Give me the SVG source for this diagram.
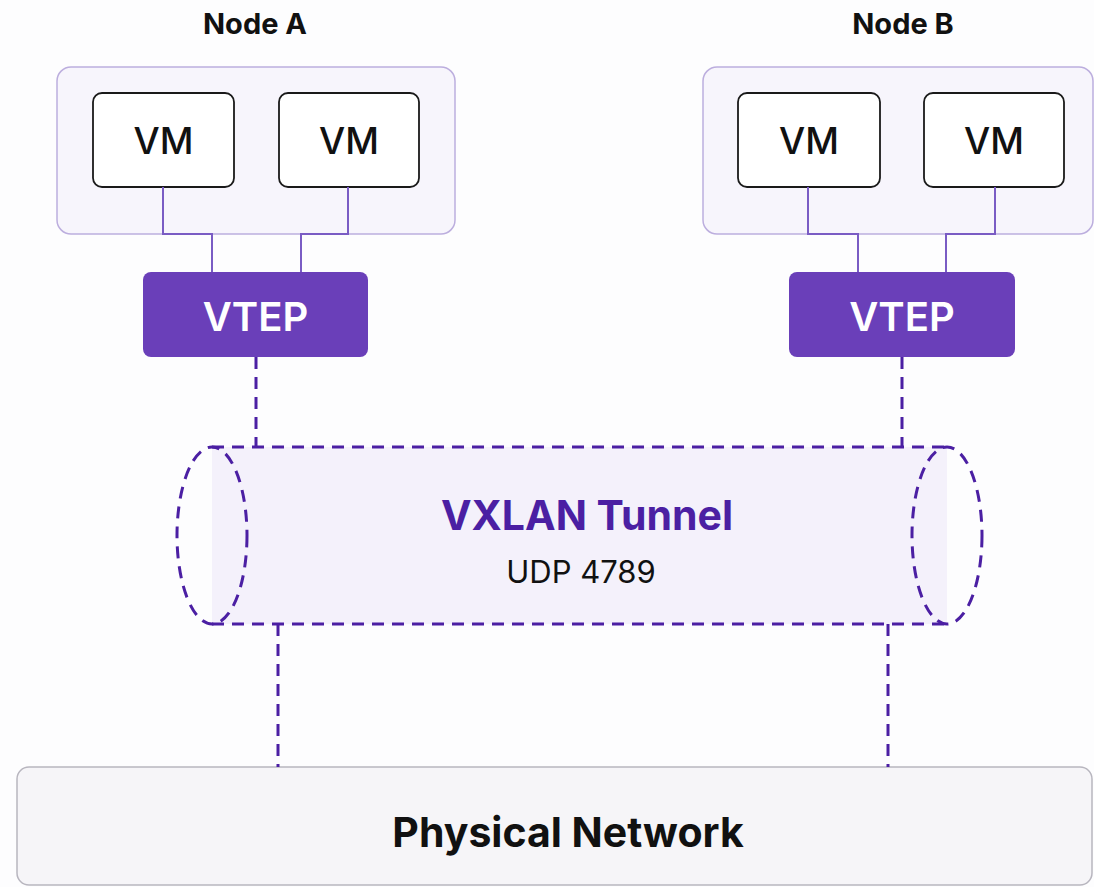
<svg xmlns="http://www.w3.org/2000/svg" width="1094" height="887" viewBox="0 0 1094 887">
  <defs>
    <style>
      .host { fill: #f7f5fc; stroke: #bcaede; stroke-width: 1.5; }
      .vm { fill: #ffffff; stroke: #1a1a1a; stroke-width: 1.8; }
      .vtep { fill: #6a3fb9; }
      .link { fill: none; stroke: #7a5cc4; stroke-width: 2; }
      .dash { fill: none; stroke: #4b1fa3; stroke-width: 3; stroke-dasharray: 12 8; }
      .title { font-family: Inter, "Liberation Sans", sans-serif; font-weight: 700; font-size: 29px; fill: #111; text-anchor: middle; }
      .vmtxt { font-family: Inter, "Liberation Sans", sans-serif; font-weight: 500; font-size: 37px; fill: #111; text-anchor: middle; }
      .vteptxt { font-family: Inter, "Liberation Sans", sans-serif; font-weight: 600; font-size: 40px; fill: #ffffff; text-anchor: middle; }
      .tuntxt { font-family: Inter, "Liberation Sans", sans-serif; font-weight: 700; font-size: 41px; fill: #4b1fa3; text-anchor: middle; }
      .udptxt { font-family: Inter, "Liberation Sans", sans-serif; font-weight: 400; font-size: 31px; fill: #111; text-anchor: middle; }
      .phytxt { font-family: Inter, "Liberation Sans", sans-serif; font-weight: 700; font-size: 41px; fill: #111; text-anchor: middle; }
    </style>
    <filter id="soft" x="-10%" y="-20%" width="120%" height="140%">
      <feGaussianBlur stdDeviation="4"/>
    </filter>
  </defs>

  <rect width="1094" height="887" fill="#fdfdfe"/>

  <!-- Node A host -->
  <g id="nodeA">
    <text class="title" x="255" y="34">Node A</text>
    <rect class="host" x="57" y="67" width="398" height="167" rx="14"/>
  </g>
  <g id="nodeA-vm1">
    <rect class="vm" x="93" y="93" width="141" height="94" rx="9"/>
    <text class="vmtxt" x="163.5" y="154">VM</text>
  </g>
  <g id="nodeA-vm2">
    <rect class="vm" x="279" y="93" width="140" height="94" rx="9"/>
    <text class="vmtxt" x="349" y="154">VM</text>
  </g>
  <g id="nodeA-vtep">
    <rect class="vtep" x="143" y="272" width="225" height="85" rx="8"/>
    <text class="vteptxt" x="255.5" y="331">VTEP</text>
  </g>

  <!-- Node B host -->
  <g id="nodeB">
    <text class="title" x="903" y="34">Node B</text>
    <rect class="host" x="703" y="67" width="390" height="167" rx="14"/>
  </g>
  <g id="nodeB-vm1">
    <rect class="vm" x="738" y="93" width="142" height="94" rx="9"/>
    <text class="vmtxt" x="809" y="154">VM</text>
  </g>
  <g id="nodeB-vm2">
    <rect class="vm" x="924" y="93" width="140" height="94" rx="9"/>
    <text class="vmtxt" x="994" y="154">VM</text>
  </g>
  <g id="nodeB-vtep">
    <rect class="vtep" x="789" y="272" width="226" height="85" rx="8"/>
    <text class="vteptxt" x="902" y="331">VTEP</text>
  </g>

  <!-- VXLAN tunnel -->
  <g id="tunnel">
    <rect x="232" y="452" width="700" height="168" fill="#ebe6f6" filter="url(#soft)" opacity="0.7"/>
    <rect x="212" y="447" width="735" height="177" fill="#f4f1fb"/>
    <line class="dash" x1="212" y1="447" x2="947" y2="447"/>
    <line class="dash" x1="212" y1="624" x2="947" y2="624"/>
    <ellipse class="dash" cx="212" cy="535.5" rx="35" ry="88.5" fill="#f7f5fc"/>
    <ellipse class="dash" cx="947" cy="535.5" rx="35" ry="88.5" fill="#f7f5fc"/>
    <text class="tuntxt" x="587" y="530">VXLAN Tunnel</text>
    <text class="udptxt" x="581" y="583">UDP 4789</text>
  </g>

  <!-- Physical network -->
  <g id="physical">
    <rect x="17" y="767" width="1075" height="118" rx="12" fill="#f6f5f8" stroke="#b8b6bf" stroke-width="1.5"/>
    <text class="phytxt" x="568" y="847">Physical Network</text>
  </g>

  <!-- Connectors -->
  <g id="connectors">
    <path class="link" d="M163 187 V234 H212 V272"/>
    <path class="link" d="M348 187 V234 H301 V272"/>
    <path class="link" d="M808 187 V234 H858 V272"/>
    <path class="link" d="M995 187 V234 H946 V272"/>
    <line class="dash" x1="256" y1="357" x2="256" y2="447"/>
    <line class="dash" x1="902" y1="357" x2="902" y2="447"/>
    <line class="dash" x1="278" y1="624" x2="278" y2="767"/>
    <line class="dash" x1="888" y1="624" x2="888" y2="767"/>
  </g>
</svg>
